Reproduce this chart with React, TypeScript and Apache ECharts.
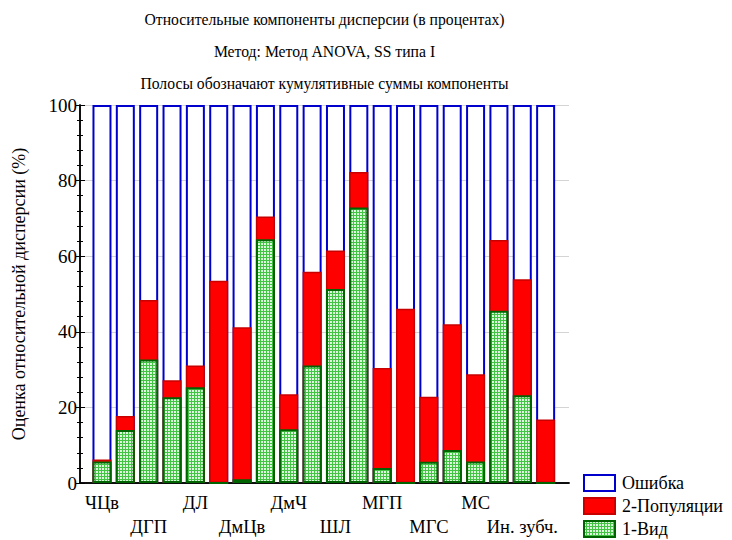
import React, { useEffect, useRef } from "react";
import * as echarts from "echarts";

const categories = ["ЧЦв", "", "ДГП", "", "ДЛ", "", "ДмЦв", "", "ДмЧ", "", "ШЛ", "", "МГП", "", "МГС", "", "МС", "", "Ин. зубч.", ""];
// cumulative sums (%)
const errorTotal = [100, 100, 100, 100, 100, 100, 100, 100, 100, 100, 100, 100, 100, 100, 100, 100, 100, 100, 100, 100];
const populationCum = [6.2, 17.7, 48.4, 27.2, 31.1, 53.5, 41.2, 70.5, 23.5, 55.9, 61.5, 82.3, 30.4, 46.1, 22.8, 42.0, 28.8, 64.3, 53.9, 16.8];
const speciesVals = [5.7, 14.0, 32.7, 22.7, 25.3, 0, 1.0, 64.5, 14.2, 31.1, 51.3, 72.9, 4.0, 0, 5.6, 8.7, 5.7, 45.6, 23.2, 0];
const titleLines = [
  "Относительные компоненты дисперсии (в процентах)",
  "Метод: Метод ANOVA, SS типа I",
  "Полосы обозначают кумулятивные суммы компоненты",
];
const seriesNames = ["Ошибка", "2-Популяции", "1-Вид"];
const yTitle = "Оценка относительной дисперсии (%)";

const FONT = "Times New Roman, Liberation Serif, DejaVu Serif, serif";

export default function App() {
  const ref = useRef<HTMLDivElement>(null);
  useEffect(() => {
    if (!ref.current) return;
    const chart = echarts.init(ref.current, undefined, { renderer: "svg" });
    const cv = document.createElement("canvas");
    cv.width = 3;
    cv.height = 3;
    const ctx = cv.getContext("2d")!;
    ctx.fillStyle = "#44c444";
    ctx.fillRect(0, 0, 3, 3);
    ctx.fillStyle = "#dcf8dc";
    ctx.fillRect(0, 0, 2, 2);
    const greenPattern: any = { image: cv, repeat: "repeat" };

    const plotLeft = 80, plotRight = 569, plotTop = 105, plotBottom = 483;
    const innerLeft = 90.3, innerRight = 557.3;

    const option: any = {
      animation: false,
      backgroundColor: "#ffffff",
      textStyle: { fontFamily: FONT, color: "#000" },
      title: titleLines.map((t, i) => ({
        text: t,
        left: (plotLeft + plotRight) / 2,
        textAlign: "center",
        top: 11 + i * 32,
        padding: 0,
        textStyle: { fontFamily: FONT, fontSize: 15.7, fontWeight: "normal", color: "#000" },
      })),
      legend: {
        orient: "vertical",
        left: 583,
        top: 474,
        height: 100,
        padding: 0,
        icon: "rect",
        itemWidth: 31,
        itemHeight: 16,
        itemGap: 5,
        data: seriesNames,
        textStyle: { fontFamily: FONT, fontSize: 18, lineHeight: 16, color: "#000", padding: [0, 0, 0, 2] },
        selectedMode: false,
      },
      grid: [
        { left: plotLeft, top: plotTop, width: plotRight - plotLeft, height: plotBottom - plotTop },
        { left: innerLeft, top: plotTop, width: innerRight - innerLeft, height: plotBottom - plotTop },
      ],
      xAxis: [
        {
          gridIndex: 0, type: "value", min: 0, max: 1, position: "bottom",
          axisLine: { show: true, lineStyle: { color: "#000", width: 1.5 } },
          axisTick: { show: false }, axisLabel: { show: false }, splitLine: { show: false },
        },
        {
          gridIndex: 0, type: "value", min: 0, max: 1, position: "top",
          axisLine: { show: true, lineStyle: { color: "#000", width: 1.5 } },
          axisTick: { show: false }, axisLabel: { show: false }, splitLine: { show: false },
        },
        {
          gridIndex: 1, type: "category", data: categories, position: "bottom",
          axisLine: { show: false },
          axisTick: { show: true, inside: true, alignWithLabel: true, interval: 0, length: 4, lineStyle: { color: "#000", width: 1.5 } },
          axisLabel: {
            interval: 0, margin: 8, fontFamily: FONT, fontSize: 18.5, color: "#000", lineHeight: 24,
            formatter: (v: string, i: number) => (v ? (i % 4 === 2 ? "\n" : "") + v : ""),
          },
        },
        {
          gridIndex: 1, type: "category", data: categories, position: "top",
          axisLine: { show: false },
          axisTick: { show: true, inside: true, alignWithLabel: true, interval: 0, length: 4, lineStyle: { color: "#000", width: 1.5 } },
          axisLabel: { show: false },
        },
      ],
      yAxis: [
        {
          gridIndex: 0, type: "value", min: 0, max: 100, interval: 20, position: "left",
          axisLine: { show: true, lineStyle: { color: "#000", width: 1.5 } },
          axisTick: { show: true, inside: true, length: 5, lineStyle: { color: "#000" } },
          minorTick: { show: true, splitNumber: 5, length: 3, lineStyle: { color: "#000" } },
          axisLabel: { fontFamily: FONT, fontSize: 19, color: "#000", margin: 3 },
          splitLine: { show: true, lineStyle: { color: "#d4d4d4", width: 1 } },
          name: yTitle,
          nameLocation: "middle",
          nameGap: 52,
          nameTextStyle: { fontFamily: FONT, fontSize: 18, color: "#000" },
        },
        {
          gridIndex: 0, type: "value", min: 0, max: 100, interval: 20, position: "right",
          axisLine: { show: true, lineStyle: { color: "#000", width: 1.5 } },
          axisTick: { show: true, inside: true, length: 5, lineStyle: { color: "#000" } },
          minorTick: { show: true, splitNumber: 5, length: 3, lineStyle: { color: "#000" } },
          axisLabel: { show: false },
          splitLine: { show: false },
        },
        {
          gridIndex: 1, type: "value", min: 0, max: 100, show: false,
        },
      ],
      series: [
        {
          name: seriesNames[0], type: "bar", xAxisIndex: 2, yAxisIndex: 2,
          data: errorTotal, barWidth: 19, barGap: "-100%",
          itemStyle: { color: "#ffffff", borderColor: "#0000cc", borderWidth: 2 },
        },
        {
          name: seriesNames[1], type: "bar", xAxisIndex: 2, yAxisIndex: 2,
          data: populationCum, barWidth: 19, barGap: "-100%",
          itemStyle: { color: "#ff0000", borderColor: "#c80000", borderWidth: 1.5 },
        },
        {
          name: seriesNames[2], type: "bar", xAxisIndex: 2, yAxisIndex: 2,
          data: speciesVals, barWidth: 19, barGap: "-100%",
          itemStyle: { color: greenPattern, borderColor: "#006400", borderWidth: 2 },
        },
      ],
    };
    chart.setOption(option);
    return () => chart.dispose();
  }, []);
  return <div ref={ref} style={{ width: 732, height: 540, position: "absolute", left: 0, top: 0 }} />;
}
